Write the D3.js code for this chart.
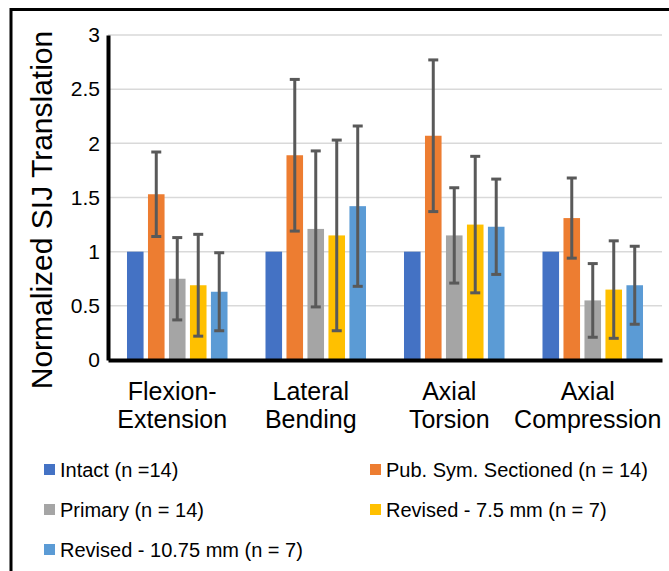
<!DOCTYPE html>
<html>
<head>
<meta charset="utf-8">
<title>Normalized SIJ Translation</title>
<script src="https://cdn.jsdelivr.net/npm/d3@7"></script>
<style>
  body { margin: 0; background: #fff; }
  svg text { font-family: "Liberation Sans", Arial, sans-serif; fill: #000; }
</style>
</head>
<body>
<svg id="chart" width="669" height="571"></svg>

<script>
// ---- data ----
var categories = ["Flexion-Extension", "Lateral Bending", "Axial Torsion", "Axial Compression"]
var categoryLines = [["Flexion-", "Extension"], ["Lateral", "Bending"], ["Axial", "Torsion"], ["Axial", "Compression"]]
var seriesNames = ["Intact (n =14)", "Pub. Sym. Sectioned (n = 14)", "Primary (n = 14)", "Revised - 7.5 mm (n = 7)", "Revised - 10.75 mm (n = 7)"]
var seriesColors = ["#4472C4", "#ED7D31", "#A5A5A5", "#FFC000", "#5B9BD5"]

var intact   = [1, 1, 1, 1]
var pubSym   = [1.53, 1.89, 2.07, 1.31]
var primary  = [0.75, 1.21, 1.15, 0.55]
var rev75    = [0.69, 1.15, 1.25, 0.65]
var rev1075  = [0.63, 1.42, 1.23, 0.69]

// error bar half-widths (null = no bar)
var intactErr  = [null, null, null, null]
var pubSymErr  = [0.39, 0.70, 0.70, 0.37]
var primaryErr = [0.38, 0.72, 0.44, 0.34]
var rev75Err   = [0.47, 0.88, 0.63, 0.45]
var rev1075Err = [0.36, 0.74, 0.44, 0.36]

var yTicks = [0, 0.5, 1, 1.5, 2, 2.5, 3]
var yTickLabels = ["0", "0.5", "1", "1.5", "2", "2.5", "3"]

var values = [intact, pubSym, primary, rev75, rev1075]
var errors = [intactErr, pubSymErr, primaryErr, rev75Err, rev1075Err]

// flat rows for d3
var rows = []
categories.forEach(function(c, ci) {
  seriesNames.forEach(function(s, si) {
    rows.push({cat: c, series: s, color: seriesColors[si], value: values[si][ci], err: errors[si][ci]})
  })
})

var svg = d3.select("#chart")

//---frame (only top/left edges fall inside the picture)---
svg.append("rect")
  .attr("x", 11).attr("y", 9.5)
  .attr("width", 700).attr("height", 600)
  .attr("fill", "none")
  .attr("stroke", "#000")
  .attr("stroke-width", 3)

var plotLeft = 108, plotRight = 662, plotTop = 35, plotBottom = 360

var x0 = d3.scaleBand().domain(categories).range([plotLeft, plotRight])
var x1 = d3.scaleBand().domain(seriesNames).range([0, x0.bandwidth()])
  .paddingInner(0.21).paddingOuter(0.905)
var y = d3.scaleLinear().domain([0, 3]).range([plotBottom, plotTop])

//---gridlines---
svg.append("g")
  .selectAll("line")
  .data(yTicks.filter(function(d) { return d > 0 }))
  .join("line")
  .attr("x1", plotLeft).attr("x2", plotRight)
  .attr("y1", function(d) { return y(d) }).attr("y2", function(d) { return y(d) })
  .attr("stroke", "#d9d9d9")
  .attr("stroke-width", 1.5)

//---bars---
svg.append("g")
  .selectAll("rect")
  .data(rows)
  .join("rect")
  .attr("x", function(d) { return x0(d.cat) + x1(d.series) })
  .attr("y", function(d) { return y(d.value) })
  .attr("width", x1.bandwidth())
  .attr("height", function(d) { return y(0) - y(d.value) })
  .attr("fill", function(d) { return d.color })

//---error bars---
var errRows = rows.filter(function(d) { return d.err != null })
var capW = 5
var eb = svg.append("g").attr("stroke", "#595959").attr("stroke-width", 3)
errRows.forEach(function(d) {
  var cx = x0(d.cat) + x1(d.series) + x1.bandwidth() / 2
  var hi = y(d.value + d.err), lo = y(d.value - d.err)
  eb.append("line").attr("x1", cx).attr("x2", cx).attr("y1", hi).attr("y2", lo)
  eb.append("line").attr("x1", cx - capW).attr("x2", cx + capW).attr("y1", hi).attr("y2", hi)
  eb.append("line").attr("x1", cx - capW).attr("x2", cx + capW).attr("y1", lo).attr("y2", lo)
})

//---axes---
var yAxis = svg.append("g")
  .attr("transform", "translate(" + plotLeft + ",0)")
  .call(d3.axisLeft(y).tickValues(yTicks).tickSize(0).tickPadding(8)
    .tickFormat(function(d, i) { return yTickLabels[i] }))
yAxis.select(".domain").attr("stroke", "#000").attr("stroke-width", 4)
yAxis.selectAll("text").style("font-size", "21px").attr("fill", "#000")

var xAxis = svg.append("g")
  .attr("transform", "translate(0," + plotBottom + ")")
  .call(d3.axisBottom(x0).tickSize(0).tickFormat(""))
xAxis.select(".domain").attr("stroke", "#000").attr("stroke-width", 4)

//---category labels on two lines---
var catLabels = svg.append("g")
  .selectAll("text")
  .data(categories)
  .join("text")
  .attr("x", function(d) { return x0(d) + x0.bandwidth() / 2 - 5 })
  .attr("y", 400)
  .attr("text-anchor", "middle")
  .style("font-size", "25px")
catLabels.each(function(d, i) {
  var t = d3.select(this)
  categoryLines[i].forEach(function(line, li) {
    t.append("tspan").attr("x", t.attr("x")).attr("dy", li == 0 ? 0 : 28).text(line)
  })
})

//---y title---
svg.append("text")
  .attr("transform", "translate(52,210) rotate(-90)")
  .attr("text-anchor", "middle")
  .style("font-size", "30px")
  .text("Normalized SIJ Translation")

//---legend---
var legendPos = [[44, 477], [370, 477], [44, 517], [370, 517], [44, 557]]
var legend = svg.append("g")
  .selectAll("g")
  .data(seriesNames)
  .join("g")
  .attr("transform", function(d, i) { return "translate(" + legendPos[i][0] + "," + legendPos[i][1] + ")" })
legend.append("rect")
  .attr("x", 0).attr("y", -13)
  .attr("width", 11).attr("height", 11)
  .attr("fill", function(d, i) { return seriesColors[i] })
legend.append("text")
  .attr("x", 16)
  .style("font-size", "20px")
  .attr("fill", "#1a1a1a")
  .text(function(d) { return d })
</script>
</body>
</html>
